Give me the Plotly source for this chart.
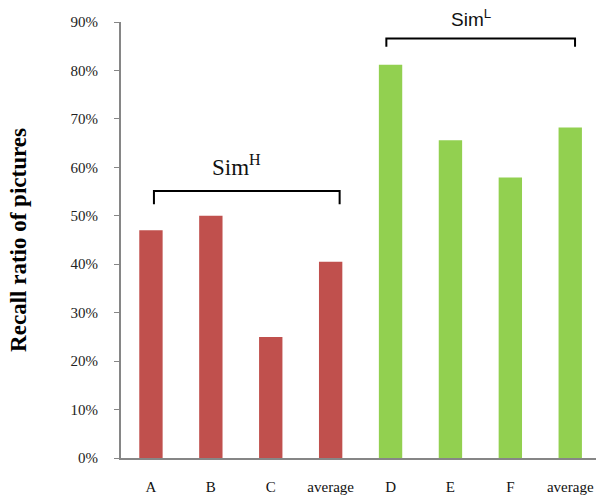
import plotly.graph_objects as go

categories = ["A", "B", "C", "average", "D", "E", "F", "average "]
tick_labels = ["A", "B", "C", "average", "D", "E", "F", "average"]
high_values = [0.47, 0.50, 0.25, 0.405]
low_values = [0.812, 0.656, 0.579, 0.682]
high_color = "#C0504D"
low_color = "#92D050"

x_idx = list(range(len(categories)))

fig = go.Figure()
fig.add_trace(go.Bar(x=x_idx[:4], y=high_values, marker=dict(color=high_color, line=dict(width=0)),
                     width=0.39, showlegend=False))
fig.add_trace(go.Bar(x=x_idx[4:], y=low_values, marker=dict(color=low_color, line=dict(width=0)),
                     width=0.39, showlegend=False))

# group brackets (data coordinates for brackets, paper for the upper label)
brackets = [
    dict(x0=0.05, x1=3.15, ytop=0.551, ybot=0.524, label="Sim<sup>H</sup>", lx=1.42, ly=0.604, lyref="y",
         font=dict(family="Liberation Serif, Times New Roman, serif", size=23, color="#111")),
    dict(x0=3.93, x1=7.08, ytop=0.866, ybot=0.849, label="Sim<sup>L</sup>", lx=5.34, ly=1.01, lyref="paper",
         font=dict(family="Liberation Sans, Arial, sans-serif", size=19, color="#111")),
]
for b in brackets:
    path = f"M {b['x0']},{b['ybot']} L {b['x0']},{b['ytop']} L {b['x1']},{b['ytop']} L {b['x1']},{b['ybot']}"
    fig.add_shape(type="path", path=path, xref="x", yref="y", line=dict(color="black", width=2))
    fig.add_annotation(x=b["lx"], y=b["ly"], xref="x", yref=b["lyref"], text=b["label"], showarrow=False,
                       font=b["font"], yanchor="middle", xanchor="center")

fig.update_layout(
    width=596, height=501,
    margin=dict(l=121, r=0, t=22, b=43),
    plot_bgcolor="white", paper_bgcolor="white",
    font=dict(family="Liberation Serif, Times New Roman, serif", color="#222"),
)
fig.update_xaxes(
    tickmode="array", tickvals=x_idx, ticktext=tick_labels,
    range=[-0.5, 7.43], showline=True, linecolor="#868686", linewidth=2,
    ticks="", showgrid=False, zeroline=False, automargin=False,
    ticklabeloverflow="allow",
    tickfont=dict(size=15, family="Liberation Serif, Times New Roman, serif", color="#111"),
    ticklabelstandoff=14,
)
fig.update_yaxes(
    range=[0, 0.9], dtick=0.1, tickformat=".0%",
    showline=True, linecolor="#868686", linewidth=2,
    ticks="outside", ticklen=5, tickcolor="#868686", tickwidth=1,
    showgrid=False, zeroline=False, automargin=False,
    tickfont=dict(size=15, family="Liberation Serif, Times New Roman, serif", color="#222"),
    ticklabelstandoff=13,
    title=dict(text="<b>Recall ratio of pictures</b>", standoff=37,
               font=dict(size=23, family="Liberation Serif, Times New Roman, serif", color="#000")),
)

fig.write_html(
    "out.html",
    config={"displayModeBar": False},
    post_script="document.body.style.margin='0';document.body.style.overflow='hidden';",
)
